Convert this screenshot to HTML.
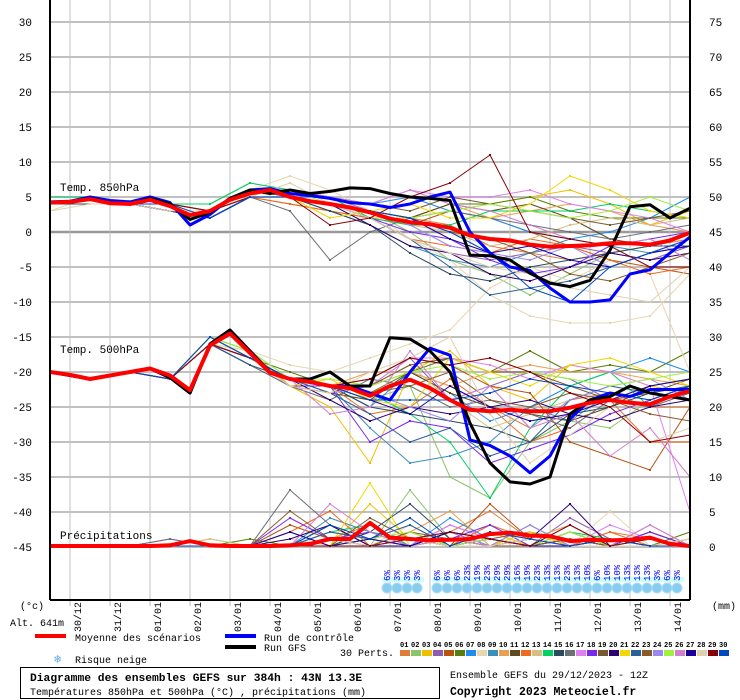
<!DOCTYPE html>
<html><head><meta charset="utf-8">
<style>
body{margin:0;background:#fff;position:relative;width:740px;height:700px;overflow:hidden}
svg{display:block;font-family:"Liberation Mono","DejaVu Sans Mono",monospace;}
</style></head>
<body>
<svg id="chart" width="740" height="700" viewBox="0 0 740 700" xmlns="http://www.w3.org/2000/svg">
<g id="grid"></g>
<g id="series"></g>
<g id="axes"></g>
</svg>
<script>
const NS="http://www.w3.org/2000/svg";
// ---- data ----
const dateLabels=["30/12","31/12","01/01","02/01","03/01","04/01","05/01","06/01","07/01","08/01","09/01","10/01","11/01","12/01","13/01","14/01"];
const leftTicks=[30,25,20,15,10,5,0,-5,-10,-15,-20,-25,-30,-35,-40,-45];
const rightTicks=[75,70,65,60,55,50,45,40,35,30,25,20,15,10,5,0];
const memberColors=["#e07b39","#8cc46b","#f0c000","#8e5bb0","#b5530f","#5a7d0c","#1e8cf0","#e8d6b0","#3a8ebc","#e8a050","#5e4a1e","#f06a1e","#d4c080","#00d060","#2a4a5e","#6a7078","#e080f0","#7a28f0","#7a5a30","#300070","#f0d800","#2a6098","#8a5a28","#9a8af0","#a0f040","#d080d0","#1a0098","#e0d0b0","#8a0008","#0048c0"];
const mean850=[4.2,4.3,4.7,4.1,4.0,4.6,3.7,2.4,3.0,4.6,5.5,6.0,5.0,4.4,4.0,3.5,2.8,1.9,1.4,1.1,0.6,-0.5,-1.0,-1.2,-1.8,-2.1,-2.0,-1.9,-1.6,-1.6,-1.8,-1.2,-0.1];
const ctrl850=[4.3,4.4,5.0,4.5,4.3,5.0,4.2,1.0,2.5,4.8,6.0,6.2,5.5,5.2,4.8,4.2,4.0,3.5,4.0,5.0,5.7,0,-3,-5,-5.5,-8,-10,-10,-9.7,-6,-5.4,-3,-0.7];
const gfs850=[4.2,4.3,4.8,4.2,4.0,4.8,4.0,1.8,2.8,4.8,6.0,5.5,6.0,5.5,5.8,6.3,6.2,5.5,5.0,4.8,4.5,-3.3,-3.4,-4.0,-5.9,-7.3,-7.8,-6.9,-2.6,3.6,3.9,2.0,3.4];
const mean500=[-20,-20.4,-21,-20.5,-20,-19.5,-20.5,-22.6,-16.2,-14.5,-17.3,-20.1,-21,-21.4,-22,-22.3,-23.4,-22,-21.1,-22.3,-24,-25.4,-25.6,-25.4,-25.6,-25.6,-25.1,-24.4,-24,-24.4,-24.6,-23.5,-22.7];
const ctrl500=[-20,-20.5,-21,-20.5,-20,-19.5,-20.8,-23,-16,-14,-17,-20,-21,-21.5,-22,-22,-23,-24,-20,-16.6,-17.6,-29.7,-30.5,-32,-34.4,-32,-26.7,-24,-23,-23.5,-22.5,-22.5,-22.5];
const gfs500=[-20,-20.5,-21,-20.5,-20,-19.5,-20.8,-23,-16,-14,-17,-20,-21,-21,-20,-22,-22,-15.1,-15.3,-17,-20,-27.3,-33,-35.7,-36,-35,-26,-24,-23.5,-22,-23,-23.5,-24];
const meanPrecip=[0,0,0,0,0,0,0.1,0.7,0.1,0,0,0,0.1,0.3,1.0,1.0,3.3,1.2,1.0,0.8,0.9,1.0,1.7,1.9,1.5,1.4,0.7,0.9,0.8,0.9,1.2,0.3,0];
const m850=[
[4,5,4,4,3,6,5,4,3,2,1,-2,-3,-4,-3,-2,-1],[4,5,4,4,4,7,6,5,3,0,-4,-6,-9,-6,-3,-2,-2],
[4,5,4,4,3,6,5,4,2,2,3,4,5,6,4,1,3],[4,4,4,3,2,5,5,4,2,-1,-3,-4,-3,-2,-3,-4,-2],
[4,5,4,4,3,5,4,3,2,1,3,2,0,-2,-4,-5,-6],[4,5,4,4,3,6,6,5,3,2,4,4,5,3,2,2,2],
[4,5,4,4,3,6,5,5,4,5,3,2,0,-1,0,2,5],[3,5,4,4,3,6,8,6,3,-1,-4,-9,-12,-13,-13,-12,-6],
[4,4,4,3,2,5,5,3,1,-2,-4,-5,-3,-1,-2,-3,-1],[4,5,4,4,3,5,5,4,3,2,4,2,3,4,3,1,0],
[4,5,4,4,3,5,5,4,3,2,4,3,4,2,-1,-2,0],[4,5,4,4,3,5,4,3,2,-1,-2,-3,-1,-2,-4,-6,-5],
[4,4,4,3,3,6,6,5,3,1,0,-2,-1,1,2,1,2],[5,5,4,4,4,7,6,5,2,1,1,3,3,3,4,3,2],
[4,4,4,3,2,5,5,3,1,-3,-6,-7,-5,-4,-3,-2,-2],[4,5,4,4,3,5,3,-4,0,2,3,2,1,0,-1,0,1],
[4,5,4,4,3,6,6,5,4,6,5,5,6,4,3,2,0],[4,5,4,4,3,6,5,4,2,0,-1,-4,-6,-5,-2,-1,0],
[4,5,4,4,3,6,6,5,4,3,5,4,3,2,1,2,3],[4,5,4,3,2,5,5,4,1,-2,-3,-6,-7,-5,-3,-4,-3],
[4,5,4,4,3,6,5,2,3,4,2,2,4,8,6,3,2],[4,5,4,4,3,6,5,4,2,-1,-5,-9,-8,-7,-5,-3,-2],
[4,5,4,4,3,5,5,4,3,2,0,-1,-3,-6,-7,-5,-3],[4,5,4,4,3,6,6,5,3,1,-2,-3,-4,-2,-5,-3,-2],
[4,5,4,4,3,6,6,4,3,2,3,4,3,2,3,5,3],[4,5,4,4,3,6,6,5,4,6,4,3,1,-1,-2,-1,-4],
[4,5,4,3,2,5,5,4,3,2,-1,-3,-2,-4,-5,-3,-2],[3,4,4,3,3,5,7,4,2,-1,-3,-5,-6,-8,-9,-10,-5],
[4,5,4,4,3,5,5,1,2,5,7,11,0,-1,-2,-5,-5],[4,5,4,4,2,5,5,4,3,2,0,-3,-8,-10,-5,-3,-1]];
const m500=[
[-20,-21,-20,-21,-16,-19,-21,-22,-22,-20,-22,-25,-28,-24,-23,-25,-25],[-20,-21,-20,-21,-16,-17,-22,-23,-24,-22,-35,-38,-30,-27,-28,-24,-22],
[-20,-21,-20,-21,-15,-18,-22,-25,-33,-20,-17,-22,-24,-19,-20,-22,-23],[-20,-21,-20,-21,-16,-18,-21,-23,-22,-18,-24,-22,-20,-21,-24,-25,-22],
[-20,-21,-20,-21,-15,-18,-22,-22,-21,-18,-19,-22,-23,-30,-32,-34,-25],[-20,-21,-20,-21,-16,-18,-20,-22,-23,-20,-18,-20,-17,-20,-19,-20,-17],
[-20,-21,-20,-21,-15,-18,-21,-22,-25,-20,-23,-27,-25,-22,-20,-18,-20],[-20,-21,-20,-21,-16,-17,-19,-20,-18,-16,-14,-8,-5,-7,-4,-6,-20],
[-20,-21,-20,-21,-16,-18,-21,-22,-28,-33,-32,-30,-25,-27,-23,-24,-22],[-20,-21,-20,-21,-15,-17,-22,-22,-20,-20,-22,-20,-19,-20,-20,-21,-22],
[-20,-21,-20,-21,-16,-19,-22,-23,-24,-20,-23,-25,-26,-27,-25,-22,-21],[-20,-21,-20,-21,-15,-18,-21,-22,-26,-25,-21,-25,-30,-28,-24,-30,-30],
[-20,-21,-20,-21,-16,-18,-21,-21,-22,-19,-24,-28,-26,-24,-22,-23,-22],[-20,-21,-20,-21,-15,-17,-21,-22,-23,-26,-30,-38,-28,-22,-20,-25,-22],
[-20,-21,-20,-21,-16,-18,-21,-22,-25,-26,-27,-28,-30,-26,-25,-23,-22],[-20,-21,-20,-21,-16,-19,-22,-24,-21,-22,-25,-24,-26,-28,-24,-25,-23],
[-20,-21,-20,-21,-15,-18,-21,-23,-22,-18,-18,-19,-21,-19,-20,-22,-40],[-20,-21,-20,-21,-16,-18,-22,-22,-30,-27,-28,-33,-31,-29,-26,-24,-22],
[-20,-21,-20,-21,-16,-18,-21,-22,-22,-19,-18,-20,-20,-22,-24,-23,-21],[-20,-21,-20,-21,-16,-18,-21,-24,-27,-25,-26,-25,-24,-26,-27,-25,-24],
[-20,-21,-20,-21,-15,-18,-22,-21,-24,-25,-18,-20,-22,-19,-18,-20,-22],[-20,-21,-20,-21,-16,-19,-21,-23,-26,-30,-28,-32,-30,-24,-22,-23,-22],
[-20,-21,-20,-21,-16,-18,-21,-22,-23,-22,-20,-24,-25,-23,-24,-26,-27],[-20,-21,-20,-21,-16,-18,-21,-22,-23,-25,-27,-22,-28,-24,-22,-21,-24],
[-20,-21,-20,-21,-15,-17,-21,-21,-22,-20,-19,-21,-20,-21,-22,-21,-20],[-20,-21,-20,-21,-16,-18,-21,-26,-25,-17,-24,-22,-28,-26,-32,-28,-35],
[-20,-21,-20,-21,-16,-18,-21,-22,-24,-26,-22,-25,-27,-26,-24,-22,-21],[-20,-21,-20,-21,-16,-18,-22,-23,-20,-18,-15,-26,-33,-29,-25,-30,-28],
[-20,-21,-20,-21,-16,-18,-21,-22,-21,-18,-19,-18,-20,-23,-25,-30,-29],[-20,-21,-20,-21,-15,-18,-21,-22,-24,-24,-24,-23,-21,-22,-23,-24,-22]];
const mPrecip=[
[0,0,0,0,0,0,0,1,3,0,2,5,1,0,2,1,0],[0,0,0,0,1,0,0,3,0,8,1,0,2,1,0,3,0],
[0,0,0,0,0,0,0,0,6,1,0,2,0,1,0,0,1],[0,0,0,1,0,0,2,0,1,0,3,1,0,4,1,0,0],
[0,0,0,0,0,0,3,1,0,2,0,6,1,0,0,2,0],[0,0,0,0,0,1,0,0,2,0,1,0,3,0,1,0,2],
[0,0,0,0,0,0,0,2,1,0,4,1,0,2,0,1,0],[0,0,0,0,0,0,1,0,0,3,0,1,0,0,5,0,1],
[0,0,0,0,0,0,0,4,2,1,0,2,1,0,1,0,0],[0,0,0,0,0,0,0,1,0,2,5,0,1,3,0,0,1],
[0,0,0,0,0,0,0,0,1,0,2,1,0,1,0,2,0],[0,0,0,0,0,0,2,5,0,1,0,3,1,0,2,0,0],
[0,0,0,0,1,0,0,1,0,0,1,0,2,0,0,1,0],[0,0,0,0,0,0,0,2,3,0,1,0,0,2,1,0,0],
[0,0,0,0,0,0,0,0,2,6,1,0,1,0,0,0,1],[0,0,0,1,0,0,8,3,0,1,0,1,0,2,0,0,0],
[0,0,0,0,0,0,0,2,1,0,3,1,0,0,3,1,0],[0,0,0,0,0,0,4,1,2,0,1,3,0,1,0,2,0],
[0,0,0,0,0,0,0,0,4,1,0,1,2,0,1,0,0],[0,0,0,0,0,0,1,3,0,0,2,0,1,6,0,1,0],
[0,0,0,0,0,0,0,0,9,0,1,0,2,0,1,0,1],[0,0,0,0,0,0,0,2,1,3,0,1,0,1,0,0,0],
[0,0,0,0,0,0,5,1,0,2,1,0,0,1,0,1,0],[0,0,0,0,0,0,0,1,0,1,2,0,3,0,1,0,0],
[0,0,0,0,0,0,0,0,1,2,0,1,0,2,0,1,0],[0,0,0,0,0,0,0,6,2,0,1,0,1,0,0,3,0],
[0,0,0,0,0,0,2,0,1,0,2,1,0,0,1,0,0],[0,0,0,0,0,0,0,1,0,1,0,0,1,0,0,0,1],
[0,0,0,0,0,0,0,0,0,1,2,1,0,3,0,1,0],[0,0,0,0,0,0,0,3,1,4,0,2,1,0,1,0,0]];
const snowGroup1=["6%","3%","3%","3%"];
const snowGroup2=["6%","6%","6%","23%","19%","23%","29%","29%","16%","19%","23%","13%","13%","23%","13%","10%","6%","10%","10%","13%","13%","13%","3%","6%","3%"];

const X0=50,X1=690,HOURS=384;
function xH(h){return X0+(X1-X0)*h/HOURS;}
function yT(v){return 232-v*7;}
function yP(mm){return 546-mm*7;}
function el(tag,attrs,parent,text){const e=document.createElementNS(NS,tag);for(const k in attrs)e.setAttribute(k,attrs[k]);if(text!==undefined)e.textContent=text;parent.appendChild(e);return e;}
const G=document.getElementById('grid'),S=document.getElementById('series'),A=document.getElementById('axes');

leftTicks.forEach(v=>{
 const ln=el('line',{x1:X0,x2:X1,y1:yT(v),y2:yT(v),stroke:v===0?'#999':'#c0c0c0','stroke-width':v===0?2.5:2},G);
 
 
});
for(let d=0;d<16;d++){
 const x=xH(12+24*d);
 const ln=el('line',{x1:x,x2:x,y1:0,y2:606,stroke:'#c0c0c0','stroke-width':1},G);
 
 
}
function snowBand(labels,x0){
 const w=labels.length*10;
 const b=el('rect',{x:x0-2,y:577,width:w+2,height:5,fill:'#ccffff'},S);
 
 
 labels.forEach((t,i)=>{
  const cx=x0+3+i*10;
  const c=el('circle',{cx:cx,cy:588,r:5,fill:'#88ccee',stroke:'#aaddff','stroke-width':1},S);
  
  
  const tx=el('text',{x:0,y:0,transform:`translate(${cx+3},581) rotate(-90)`,'font-size':9,fill:'#0000ff'},S,t);
  
  
 });
}
snowBand(snowGroup1,384);snowBand(snowGroup2,434);

function line(vals,step,conv,color,w,name,marks){
 const pts=vals.map((v,i)=>[xH(i*step),conv(v)]);
 const p=el('polyline',{points:pts.map(p=>p.join(',')).join(' '),fill:'none',stroke:color,'stroke-width':w,'stroke-linejoin':'round'},S);
 
 
 if(marks){pts.forEach(q=>{el('rect',{x:q[0]-1,y:q[1]-1,width:2,height:2,fill:color},S);});}
}
for(let m=0;m<30;m++){
 line(m850[m],24,yT,memberColors[m],1,'member-850-'+(m+1),true);
 line(m500[m],24,yT,memberColors[m],1,'member-500-'+(m+1),true);
 line(mPrecip[m],24,yP,memberColors[m],1,'member-precip-'+(m+1),true);
}
line(ctrl850,12,yT,'#0000ff',3,'control-850',false);
line(gfs850,12,yT,'#000000',3,'gfs-850',false);
line(mean850,12,yT,'#ff0000',4,'mean-850',false);
line(ctrl500,12,yT,'#0000ff',3,'control-500',false);
line(gfs500,12,yT,'#000000',3,'gfs-500',false);
line(mean500,12,yT,'#ff0000',4,'mean-500',false);
line(meanPrecip,12,yP,'#ff0000',4,'mean-precip',false);

el('line',{x1:50,x2:50,y1:0,y2:600,stroke:'#000','stroke-width':2},A);
el('line',{x1:690,x2:690,y1:0,y2:600,stroke:'#000','stroke-width':2},A);
el('line',{x1:50,x2:690,y1:600,y2:600,stroke:'#000','stroke-width':2},A);
leftTicks.forEach(v=>{
 const t=el('text',{x:32,y:yT(v)+4,'text-anchor':'end','font-size':11,fill:'#000'},A,String(v));
 
 
});
rightTicks.forEach((v,i)=>{
 const t=el('text',{x:709,y:yT(leftTicks[i])+4,'font-size':11,fill:'#000'},A,String(v));
 
 
});
dateLabels.forEach((d,i)=>{
 const x=xH(12+24*i);
 const t=el('text',{x:0,y:0,transform:`translate(${x+11},602) rotate(-90)`,'text-anchor':'end','font-size':10,fill:'#000'},A,d);
 
 
});
[['Temp. 850hPa',60,191],['Temp. 500hPa',60,353],['Précipitations',60,539]].forEach(a=>{
 const t=el('text',{x:a[1],y:a[2],'font-size':11,fill:'#000'},A,a[0]);
 
 
});
</script>
<svg style="position:absolute;left:0;top:0" width="740" height="700" xmlns="http://www.w3.org/2000/svg" font-family="Liberation Mono, DejaVu Sans Mono, monospace" font-size="10">
 <text x="20" y="609">(°c)</text>
 <text x="10" y="626">Alt. 641m</text>
 <text x="712" y="609">(mm)</text>
 <rect x="35" y="634" width="31" height="4" fill="#ff0000"/>
 <text x="75" y="641">Moyenne des scénarios</text>
 <rect x="225" y="634" width="31" height="4" fill="#0000ff"/>
 <text x="264" y="641">Run de contrôle</text>
 <rect x="225" y="645" width="31" height="4" fill="#000"/>
 <text x="264" y="651">Run GFS</text>
 <text x="340" y="656">30 Perts.</text>
 <text x="54" y="663" font-size="12" fill="#66aaee">❄</text>
 <text x="75" y="663">Risque neige</text>
 <g id="pertlegend"></g>
 <rect x="20.5" y="667.5" width="419" height="31" fill="none" stroke="#000"/>
 <text x="30" y="681" font-size="11.3" font-weight="bold">Diagramme des ensembles GEFS sur 384h : 43N 13.3E</text>
 <text x="30" y="695">Températures 850hPa et 500hPa (°C) , précipitations (mm)</text>
 <text x="450" y="678">Ensemble GEFS du 29/12/2023 - 12Z</text>
 <text x="450" y="695" font-size="11.5" font-weight="bold">Copyright 2023 Meteociel.fr</text>
</svg>
<script>
(function(){
 const g=document.getElementById('pertlegend');
 memberColors.forEach((c,i)=>{
  const x=400+i*11;
  const t=document.createElementNS(NS,'text');
  t.setAttribute('x',x);t.setAttribute('y',647);t.setAttribute('font-size','7');t.setAttribute('font-weight','bold');
  t.textContent=String(i+1).padStart(2,'0');
  
  
  g.appendChild(t);
  const r=document.createElementNS(NS,'rect');
  r.setAttribute('x',x);r.setAttribute('y',650);r.setAttribute('width',10);r.setAttribute('height',6);r.setAttribute('fill',c);
  
  
  g.appendChild(r);
 });
})();
</script>
</body></html>
